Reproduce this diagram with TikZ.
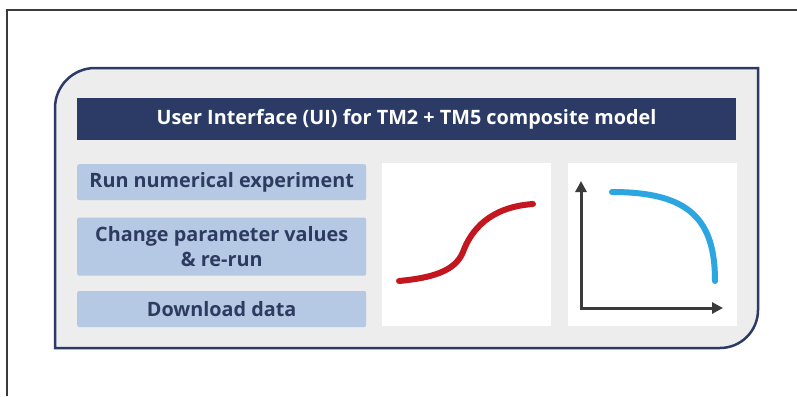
\documentclass[tikz,border=0pt]{standalone}
\usepackage{fontspec}
\setmainfont{Open Sans}
\usepackage{tikz}
\usetikzlibrary{shapes, positioning}
\usetikzlibrary{calc}
\usetikzlibrary{arrows.meta}

\definecolor{navy}{HTML}{2C3A66}
\definecolor{panelgray}{HTML}{EDEDED}
\definecolor{btnblue}{HTML}{B5C8E4}
\definecolor{btntext}{HTML}{2E3B60}
\definecolor{curvered}{HTML}{C3161F}
\definecolor{curveblue}{HTML}{2BA6E1}
\definecolor{axisgray}{HTML}{3B3B3B}

\tikzset{
	btn/.style={fill=btnblue, rounded corners=2pt, minimum width=289pt, minimum height=36pt, align=center, text=btntext, font=\fontsize{19.8}{25}\selectfont\bfseries, inner sep=0pt},
	plotbox/.style={fill=white, minimum width=169pt, minimum height=163pt, inner sep=0pt},
}

\begin{document}
\begin{tikzpicture}[x=1pt, y=-1pt]
		\useasboundingbox (0,0) rectangle (797,396);
		% frame
		\draw[axisgray, line width=1.3pt] (7,396) -- (7,10) -- (797,10);
		% panel
		\draw[navy, line width=2.5pt, fill=panelgray] (55,348) -- (55,108) .. controls (55,86) and (73,68) .. (95,68) -- (758,68) -- (758,310) .. controls (758,331) and (741,348) .. (720,348) -- cycle;
		\node[fill=navy, minimum width=659pt, minimum height=42pt, inner sep=0pt, text=white, font=\fontsize{19.8}{22}\selectfont\bfseries] (title) at (406.5,119) {User Interface (UI) for TM2 + TM5 composite model};
		\node[btn, anchor=north west] (run) at (77,164) {Run numerical experiment};
		\node[btn, minimum height=58pt, below=17pt of run] (change) {Change parameter values\\\& re-run};
		\node[btn, below=15pt of change] (download) {Download data};
		\node[plotbox, anchor=north west] (sshape) at (382,163) {};
		\node[plotbox, anchor=north west, right=16pt of sshape] (decay) {};
		% curves
		\draw[curvered, line width=6pt, line cap=round] (399,281) .. controls (430,278) and (455,272) .. (463,252) .. controls (471,230) and (490,207) .. (533,204);
		\coordinate (origin) at (581,308);
		\coordinate (ytip) at (581,181);
		\coordinate (xtip) at (723,308);
		\draw[axisgray, line width=3pt, {Triangle[length=11pt,width=11pt]}-{Triangle[length=11pt,width=11pt]}] (ytip) -- (origin) -- (xtip);
		\draw[curveblue, line width=6pt, line cap=round] (612,192) .. controls (690,192) and (715,220) .. (715,281);
	\end{tikzpicture}
\end{document}
